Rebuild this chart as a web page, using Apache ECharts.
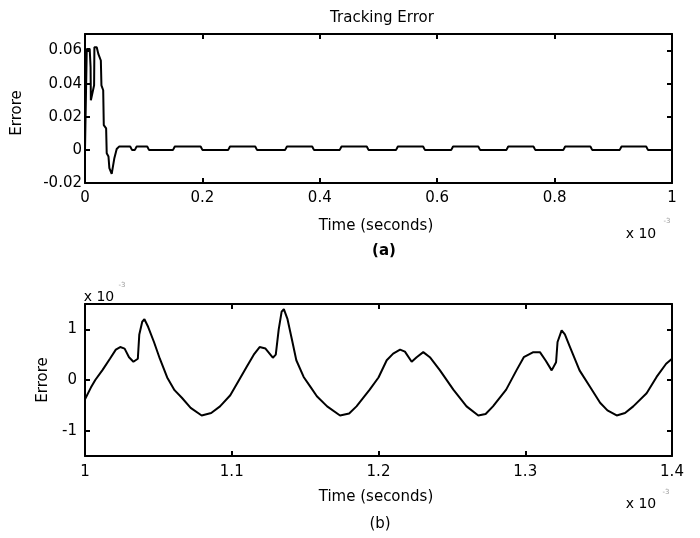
<!DOCTYPE html>
<html>
<head>
<meta charset="utf-8">
<script src="https://cdn.jsdelivr.net/npm/echarts@6/dist/echarts.min.js"></script>
<style>
html,body{margin:0;padding:0;background:#fff}
#main{width:700px;height:538px}
</style>
</head>
<body>
<div id="main"></div>
<script>
// (a) tracking error, time in units of 1e-3 s
var topTime = [0, 0.0025, 0.003, 0.008, 0.0095, 0.010, 0.0155, 0.016, 0.020, 0.0227, 0.027, 0.028, 0.031, 0.032, 0.036, 0.037, 0.040, 0.0415, 0.0455, 0.050, 0.054, 0.058, 0.077, 0.080, 0.085, 0.088, 0.106, 0.109,
    0.150, 0.153, 0.197, 0.200, 0.244, 0.247, 0.290, 0.293, 0.341, 0.344, 0.387, 0.390, 0.434, 0.437, 0.480, 0.483,
    0.530, 0.533, 0.576, 0.579, 0.624, 0.627, 0.670, 0.673, 0.718, 0.721, 0.764, 0.767, 0.815, 0.818, 0.861, 0.864,
    0.911, 0.914, 0.956, 0.959, 1.0];
var topErr = [0, 0, 0.061, 0.061, 0.05, 0.03, 0.039, 0.062, 0.062, 0.058, 0.054, 0.039, 0.036, 0.015, 0.013, -0.002, -0.004, -0.011, -0.0145, -0.005, 0.0005, 0.002, 0.002, 0, 0, 0.002, 0.002, 0,
    0, 0.002, 0.002, 0, 0, 0.002, 0.002, 0, 0, 0.002, 0.002, 0, 0, 0.002, 0.002, 0,
    0, 0.002, 0.002, 0, 0, 0.002, 0.002, 0, 0, 0.002, 0.002, 0, 0, 0.002, 0.002, 0,
    0, 0.002, 0.002, 0, 0];

// (b) zoom, error in units of 1e-3
var botTime = [1.000, 1.004, 1.007, 1.012, 1.017, 1.021, 1.024, 1.027, 1.030, 1.033, 1.036, 1.037, 1.039, 1.0405, 1.043, 1.047, 1.051, 1.056, 1.061, 1.066, 1.072, 1.0795, 1.086, 1.092, 1.099,
    1.105, 1.110, 1.115, 1.119, 1.123, 1.128, 1.130, 1.132, 1.134, 1.1355, 1.138, 1.141, 1.144, 1.149, 1.154, 1.158, 1.165, 1.1738, 1.180, 1.185, 1.194,
    1.200, 1.2056, 1.210, 1.2147, 1.218, 1.2226, 1.226, 1.2305, 1.235, 1.2419, 1.251, 1.260, 1.268, 1.273, 1.278, 1.287, 1.294, 1.299,
    1.3055, 1.310, 1.314, 1.318, 1.321, 1.322, 1.3248, 1.327, 1.3305, 1.337, 1.344, 1.351, 1.356, 1.3623, 1.368, 1.3736, 1.3827, 1.3895, 1.396, 1.400];
var botErr = [-0.38, -0.15, 0.0, 0.2, 0.42, 0.6, 0.65, 0.62, 0.45, 0.36, 0.42, 0.9, 1.15, 1.2, 1.05, 0.75, 0.42, 0.05, -0.2, -0.35, -0.55, -0.70, -0.65, -0.52, -0.3,
    0.0, 0.25, 0.5, 0.65, 0.62, 0.44, 0.5, 1.0, 1.35, 1.4, 1.2, 0.8, 0.39, 0.06, -0.15, -0.32, -0.52, -0.70, -0.66, -0.52, -0.19,
    0.05, 0.39, 0.52, 0.6, 0.56, 0.36, 0.45, 0.55, 0.45, 0.19, -0.19, -0.52, -0.70, -0.67, -0.52, -0.19, 0.19, 0.45,
    0.55, 0.55, 0.38, 0.19, 0.35, 0.75, 0.98, 0.9, 0.65, 0.19, -0.13, -0.45, -0.6, -0.70, -0.65, -0.52, -0.26, 0.06, 0.32, 0.42];

var topXTicks = [0, 0.2, 0.4, 0.6, 0.8, 1];
var topYTicks = [-0.02, 0, 0.02, 0.04, 0.06];
var botXTicks = [1, 1.1, 1.2, 1.3, 1.4];
var botYTicks = [-1, 0, 1];

var FONT = 'DejaVu Sans';

function pairs(xs, ys) {
    var out = [];
    for (var i = 0; i < xs.length; i++) out.push([xs[i], ys[i]]);
    return out;
}

function axis(grid, pos, min, max, ticks, showLabel, margin) {
    return {
        type: 'value', gridIndex: grid, position: pos, min: min, max: max,
        axisLine: {show: true, onZero: false, lineStyle: {color: '#000', width: 2}},
        axisTick: {show: true, inside: true, length: 5, customValues: ticks, lineStyle: {color: '#000', width: 2}},
        axisLabel: {show: showLabel, customValues: ticks, color: '#000', fontFamily: FONT, fontSize: 15, margin: margin},
        splitLine: {show: false}
    };
}

var myChart = echarts.init(document.getElementById('main'));

var txt = {fontFamily: FONT, fontSize: 15, fill: '#000'};
function label(x, y, text, extra) {
    var st = Object.assign({}, txt, {text: text, x: 0, y: 0, textAlign: 'center', textVerticalAlign: 'middle'}, extra || {});
    return {type: 'text', x: x, y: y, style: st};
}

var option = {
    animation: false,
    backgroundColor: '#fff',
    title: {
        text: 'Tracking Error', left: 377, top: 6, textAlign: 'center',
        textStyle: {fontFamily: FONT, fontSize: 15, fontWeight: 'normal', color: '#000'}
    },
    grid: [
        {left: 85, top: 34, width: 587, height: 149},
        {left: 85, top: 304, width: 587, height: 152}
    ],
    xAxis: [
        axis(0, 'bottom', 0, 1, topXTicks, true, 8),
        axis(0, 'top', 0, 1, topXTicks, false, 8),
        axis(1, 'bottom', 1, 1.4, botXTicks, true, 9),
        axis(1, 'top', 1, 1.4, botXTicks, false, 8)
    ],
    yAxis: [
        axis(0, 'left', -0.02, 0.07, topYTicks, true, 3),
        axis(0, 'right', -0.02, 0.07, topYTicks, false, 8),
        axis(1, 'left', -1.5, 1.5, botYTicks, true, 8),
        axis(1, 'right', -1.5, 1.5, botYTicks, false, 8)
    ],
    series: [
        {
            type: 'line', xAxisIndex: 0, yAxisIndex: 0, showSymbol: false,
            lineStyle: {color: '#000', width: 2}, data: pairs(topTime, topErr)
        },
        {
            type: 'line', xAxisIndex: 2, yAxisIndex: 2, showSymbol: false,
            lineStyle: {color: '#000', width: 2}, data: pairs(botTime, botErr)
        }
    ],
    graphic: [
        label(376, 226, 'Time (seconds)'),
        label(384, 251, '(a)', {fontWeight: 'bold'}),
        label(17, 113, 'Errore', {}),
        label(376, 497, 'Time (seconds)'),
        label(380, 524, '(b)'),
        label(43, 380, 'Errore', {}),
        label(641, 234, 'x 10', {fontSize: 14}),
        label(667, 221, '-3', {fontSize: 7, fill: '#999'}),
        label(99, 297, 'x 10', {fontSize: 14}),
        label(122, 285, '-3', {fontSize: 7, fill: '#999'}),
        label(641, 504, 'x 10', {fontSize: 14}),
        label(666, 492, '-3', {fontSize: 7, fill: '#999'})
    ]
};
// rotate the y-axis titles
option.graphic[2].rotation = Math.PI / 2;
option.graphic[5].rotation = Math.PI / 2;

myChart.setOption(option);
</script>
</body>
</html>
